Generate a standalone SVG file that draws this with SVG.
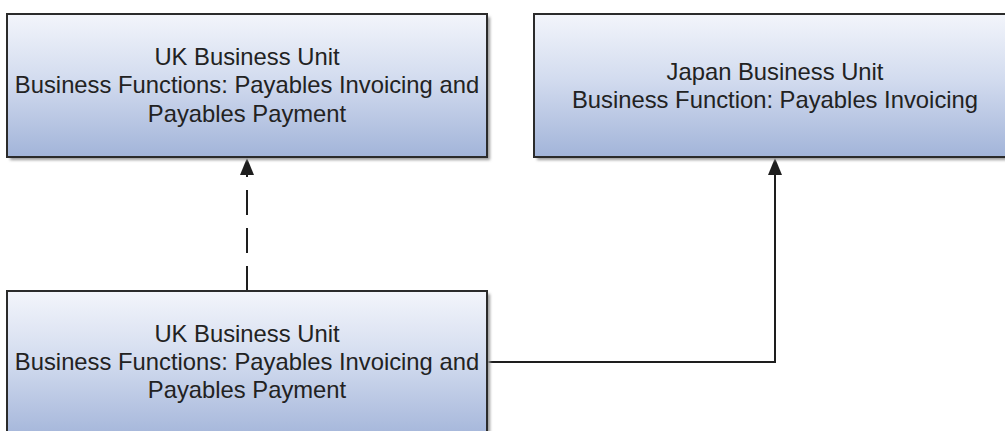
<svg xmlns="http://www.w3.org/2000/svg" width="1005" height="431" viewBox="0 0 1005 431">
  <defs>
    <linearGradient id="fill" x1="0" y1="0" x2="0" y2="1">
      <stop offset="0" stop-color="#f3f5fb"/>
      <stop offset="0.45" stop-color="#d3dcef"/>
      <stop offset="1" stop-color="#a2b4d9"/>
    </linearGradient>
    <filter id="shadow" x="-5%" y="-5%" width="110%" height="115%">
      <feGaussianBlur stdDeviation="1.5"/>
    </filter>
    <style>
      .box { fill: url(#fill); stroke: #2b2b2b; stroke-width: 2; }
      .shd { fill: #9a9a9a; filter: url(#shadow); }
      .lbl { font-family: "Liberation Sans", Arial, sans-serif; font-size: 23.8px; fill: #222222; text-anchor: middle; }
      .conn { fill: none; stroke: #1e1e1e; stroke-width: 2; }
      .dash { stroke-dasharray: 25 13; }
      .head { fill: #1e1e1e; }
    </style>
  </defs>
  <rect width="1005" height="431" fill="#ffffff"/>

  <g id="connectors">
    <line class="conn dash" x1="247" y1="291" x2="247" y2="171"/>
    <polygon class="head" points="247,158 240,175 254,175"/>
    <polyline class="conn" points="487,362 775,362 775,171"/>
    <polygon class="head" points="775,158 768,175 782,175"/>
  </g>

  <g id="uk-top">
    <rect class="shd" x="10" y="17" width="480" height="143"/>
    <rect class="box" x="7" y="14" width="480" height="143"/>
    <text class="lbl" x="247" y="65">UK Business Unit</text>
    <text class="lbl" x="247" y="93">Business Functions: Payables Invoicing and</text>
    <text class="lbl" x="247" y="122">Payables Payment</text>
  </g>

  <g id="japan">
    <rect class="shd" x="537" y="17" width="480" height="143"/>
    <rect class="box" x="534" y="14" width="480" height="143"/>
    <text class="lbl" x="775" y="80">Japan Business Unit</text>
    <text class="lbl" x="775" y="108">Business Function: Payables Invoicing</text>
  </g>

  <g id="uk-bottom">
    <rect class="shd" x="10" y="294" width="480" height="150"/>
    <rect class="box" x="7" y="291" width="480" height="150"/>
    <text class="lbl" x="247" y="342">UK Business Unit</text>
    <text class="lbl" x="247" y="370">Business Functions: Payables Invoicing and</text>
    <text class="lbl" x="247" y="398">Payables Payment</text>
  </g>
</svg>
